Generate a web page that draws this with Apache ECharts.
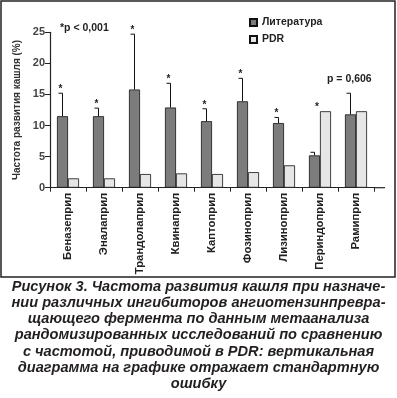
<!DOCTYPE html>
<html>
<head>
<meta charset="utf-8">
<script src="https://cdn.jsdelivr.net/npm/echarts@6/dist/echarts.min.js"></script>
<style>
  html, body { margin: 0; padding: 0; background: #fff; }
  #main { width: 397px; height: 398px; }
</style>
</head>
<body>
<div id="main"></div>
<script>
// данные с графика
var categories = ['Беназеприл', 'Эналаприл', 'Трандолаприл', 'Квинаприл', 'Каптоприл',
  'Фозиноприл', 'Лизиноприл', 'Периндоприл', 'Рамиприл'];
var literature = [11.5, 11.5, 15.8, 12.9, 10.7, 13.9, 10.4, 5.2, 11.8];
var literatureErrTop = [15.2, 12.8, 24.7, 16.8, 12.7, 17.6, 11.3, 5.7, 15.2];
var pdr = [1.5, 1.5, 2.2, 2.3, 2.2, 2.5, 3.6, 12.3, 12.3];
var stars = ['*', '*', '*', '*', '*', '*', '*', '*', ''];
var yTicks = [0, 5, 10, 15, 20, 25];

var captionLines = [
  'Рисунок 3. Частота развития кашля при назначе-',
  'нии различных ингибиторов ангиотензинпревра-',
  'щающего фермента по данным метаанализа',
  'рандомизированных исследований по сравнению',
  'с частотой, приводимой в PDR: вертикальная',
  'диаграмма на графике отражает стандартную',
  'ошибку'
];

var chart = echarts.init(document.getElementById('main'));

var captionGraphics = captionLines.map(function (t, i) {
  return {
    type: 'text',
    left: 'center',
    top: 279 + i * 16.3,
    style: {
      text: t,
      fill: '#231f20',
      font: 'italic bold 14.6px "Liberation Sans", Arial, sans-serif'
    }
  };
});

var option = {
  animation: false,
  backgroundColor: '#fff',
  grid: { left: 50, right: 23, top: 32.3, bottom: 210.3 },
  legend: {
    orient: 'vertical',
    left: 244,
    top: 12,
    itemWidth: 7,
    itemHeight: 7,
    itemGap: 6,
    icon: 'rect',
    textStyle: { fontSize: 10.5, fontWeight: 'bold', color: '#222', fontFamily: 'Liberation Sans' },
    data: ['Литература', 'PDR']
  },
  xAxis: {
    type: 'category',
    data: categories,
    axisLine: { lineStyle: { color: '#222', width: 1.2 } },
    axisTick: { show: true, length: 4, lineStyle: { color: '#222' } },
    axisLabel: {
      rotate: 90,
      margin: 5,
      fontSize: 11.3,
      fontWeight: 'bold',
      color: '#222',
      fontFamily: 'Liberation Sans'
    }
  },
  yAxis: {
    type: 'value',
    min: yTicks[0],
    max: yTicks[yTicks.length - 1],
    interval: 5,
    splitLine: { show: false },
    axisLine: { show: true, lineStyle: { color: '#222', width: 1.2 } },
    axisTick: { show: true, length: 5, lineStyle: { color: '#222' } },
    axisLabel: { fontSize: 11, fontWeight: 'bold', color: '#444', margin: 5, fontFamily: 'Liberation Sans' },
    name: 'Частота развития кашля (%)',
    nameLocation: 'middle',
    nameGap: 24,
    nameTextStyle: { fontSize: 10, fontWeight: 'bold', color: '#333', fontFamily: 'Liberation Sans' }
  },
  series: [
    {
      name: 'Литература',
      type: 'bar',
      data: literature,
      barWidth: 11,
      barGap: 0,
      itemStyle: { color: '#7c7c7c', borderColor: '#111', borderWidth: 0.8 }
    },
    {
      name: 'PDR',
      type: 'bar',
      data: pdr,
      barWidth: 11,
      barGap: 0,
      itemStyle: { color: '#e6e6e6', borderColor: '#111', borderWidth: 0.8 }
    },
    {
      type: 'custom',
      data: literature.map(function (v, i) { return [i, v, literatureErrTop[i], pdr[i]]; }),
      z: 10,
      renderItem: function (params, api) {
        var idx = api.value(0);
        var base = api.coord([idx, api.value(1)]);
        var top = api.coord([idx, api.value(2)]);
        var high = api.coord([idx, Math.max(api.value(2), api.value(3))]);
        var x = base[0] - 5.5;
        var children = [
          { type: 'line', shape: { x1: x, y1: base[1], x2: x, y2: top[1] },
            style: { stroke: '#111', lineWidth: 1 } },
          { type: 'line', shape: { x1: x - 4, y1: top[1], x2: x, y2: top[1] },
            style: { stroke: '#111', lineWidth: 1 } }
        ];
        var s = stars[idx];
        if (s) {
          var sx = api.value(3) > api.value(2) ? base[0] - 3 : x - 2;
          children.push({
            type: 'text',
            x: sx, y: high[1] + 1,
            style: { text: s, fill: '#222', font: 'bold 10px "Liberation Sans"', align: 'center', verticalAlign: 'bottom' }
          });
        }
        return { type: 'group', children: children };
      }
    }
  ],
  graphic: [
    { type: 'rect', shape: { x: 1, y: 1, width: 394, height: 276 },
      style: { fill: 'none', stroke: '#222', lineWidth: 1.5 } },
    { type: 'line', shape: { x1: 374, y1: 187.7, x2: 385, y2: 187.7 },
      style: { stroke: '#222', lineWidth: 1.2 } },
    { type: 'text', left: 60, top: 23,
      style: { text: '*p < 0,001', fill: '#222', font: 'bold 10.5px "Liberation Sans"' } },
    { type: 'text', left: 327, top: 74,
      style: { text: 'p = 0,606', fill: '#222', font: 'bold 10.5px "Liberation Sans"' } }
  ].concat(captionGraphics)
};

chart.setOption(option);
</script>
</body>
</html>
